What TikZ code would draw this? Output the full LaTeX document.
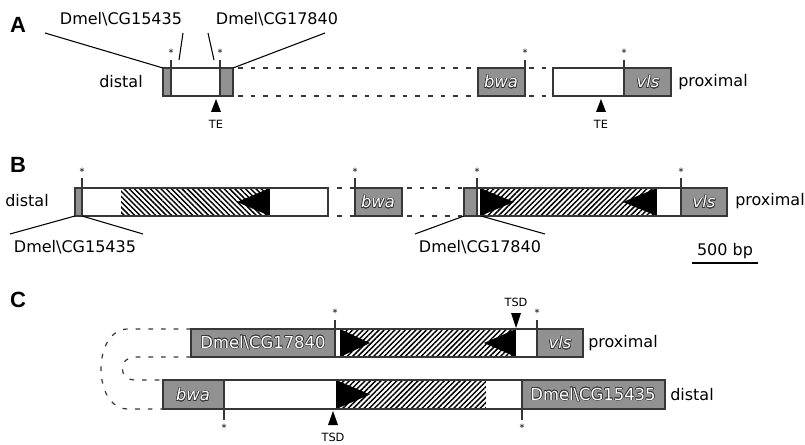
\documentclass[tikz,border=0pt]{standalone}
\usepackage{fontspec}
\setmainfont{DejaVu Sans}
\newfontfamily\panelfont{Liberation Sans}
\usepackage{contour}
\contourlength{0.4pt}
\usetikzlibrary{patterns.meta}
\definecolor{gfill}{RGB}{145,145,145}
\definecolor{edgec}{RGB}{55,55,55}
\newcommand{\otext}[1]{\textcolor{white}{\contour{edgec}{#1}}}
\begin{document}
\begin{tikzpicture}[x=0.75pt,y=-0.75pt,
  lab/.style={font=\fontsize{12}{14}\selectfont, inner sep=0pt},
  boxlab/.style={font=\fontsize{12.3}{14}\selectfont, inner sep=0pt},
  small/.style={font=\fontsize{8.5}{10}\selectfont, inner sep=0pt},
  ast/.style={font=\fontsize{7.5}{8}\selectfont, inner sep=0pt},
  panel/.style={font=\panelfont\bfseries\fontsize{16.5}{18}\selectfont, inner sep=0pt},
  bx/.style={draw=edgec, line width=0.9pt},
  dsh/.style={draw=edgec, line width=0.9pt, dash pattern=on 3.5pt off 6pt},
  tk/.style={draw=edgec, line width=0.8pt},
  lead/.style={draw=black, line width=0.8pt},
  hne/.style={pattern={Lines[angle=45,distance=2.8pt,line width=1.1pt]}},
  hnw/.style={pattern={Lines[angle=-45,distance=2.8pt,line width=1.1pt]}},
]
\useasboundingbox (0,0) rectangle (805,445);

% ================= Panel A =================
\node[panel] (pA) at (18,25) {A};
\node[lab] (lA1) at (121,19) {Dmel\textbackslash CG15435};
\node[lab] (lA2) at (277,19) {Dmel\textbackslash CG17840};
\node[lab, anchor=east] (dA) at (143,82) {distal};
\node[lab, anchor=west] (pxA) at (678,82) {proximal};

\path[fill=gfill] (163,68) rectangle (171,96);
\path[fill=white] (171,68) rectangle (220,96);
\path[fill=gfill] (220,68) rectangle (233,96);
\draw[bx] (163,68) rectangle (233,96);
\draw[edgec, line width=1.4pt] (233,68) -- (233,96);
\coordinate (a1) at (171,60);
\coordinate (a2) at (220,60);
\draw[tk] (a1) -- (171,96);
\draw[tk] (a2) -- (220,96);
\node[ast] at (171,53) {*};
\node[ast] at (220,53) {*};

\coordinate (aL) at (163,68);
\coordinate (aR) at (233,68);
\draw[lead] (45,33) -- (aL);
\draw[lead] (183,33) -- (179,60);
\draw[lead] (208,33) -- (214,60);
\draw[lead] (325,33) -- (aR);

\draw[dsh] (238,68) -- (478,68);
\draw[dsh] (238,96) -- (478,96);
\path[fill=gfill] (478,68) rectangle (525,96);
\draw[bx] (478,68) rectangle (525,96);
\node[boxlab] (bwaA) at (501,82) {\otext{\itshape bwa}};
\draw[tk] (525,60) -- (525,96);
\node[ast] at (525,53) {*};
\draw[dsh] (529,68) -- (553,68);
\draw[dsh] (529,96) -- (553,96);
\path[fill=white] (553,68) rectangle (624,96);
\path[fill=gfill] (624,68) rectangle (671,96);
\draw[bx] (553,68) rectangle (671,96);
\draw[tk] (624,60) -- (624,96);
\node[ast] at (624,53) {*};
\node[boxlab] (vlsA) at (648,82) {\otext{\itshape vls}};

\fill (216,99) -- (221,112) -- (211,112) -- cycle;
\node[small] (te1) at (216,124) {TE};
\fill (601,99) -- (606,112) -- (596,112) -- cycle;
\node[small] (te2) at (601,124) {TE};

% ================= Panel B =================
\node[panel] (pB) at (18,165) {B};
\node[lab] (dB) at (27,201) {distal};
\node[lab, anchor=west] (pxB) at (735,201) {proximal};

\path[fill=gfill] (75,188) rectangle (82,216);
\path[fill=white] (82,188) rectangle (121,216);
\path[hnw] (121,188) rectangle (270,216);
\fill (237,202) -- (270,188) -- (270,216) -- cycle;
\path[fill=white] (270,188) rectangle (328,216);
\draw[bx] (75,188) rectangle (328,216);
\draw[tk] (82,178) -- (82,216);
\node[ast] at (82,172) {*};

\draw[dsh] (337,188) -- (355,188);
\draw[dsh] (337,216) -- (355,216);
\path[fill=gfill] (355,188) rectangle (402,216);
\draw[bx] (355,188) rectangle (402,216);
\draw[tk] (355,178) -- (355,216);
\node[ast] at (355,172) {*};
\node[boxlab] (bwaB) at (378,202) {\otext{\itshape bwa}};
\draw[dsh] (407,188) -- (464,188);
\draw[dsh] (407,216) -- (464,216);

\path[fill=gfill] (464,188) rectangle (477,216);
\path[fill=white] (477,188) rectangle (480,216);
\path[hne] (480,188) rectangle (657,216);
\fill (480,188) -- (514,202) -- (480,216) -- cycle;
\fill (657,188) -- (623,202) -- (657,216) -- cycle;
\path[fill=white] (657,188) rectangle (681,216);
\path[fill=gfill] (681,188) rectangle (727,216);
\draw[bx] (464,188) rectangle (727,216);
\draw[tk] (477,178) -- (477,216);
\draw[tk] (681,178) -- (681,216);
\node[ast] at (477,172) {*};
\node[ast] at (681,172) {*};
\node[boxlab] (vlsB) at (704,202) {\otext{\itshape vls}};

\node[lab] (lB1) at (75,247) {Dmel\textbackslash CG15435};
\node[lab] (lB2) at (480,247) {Dmel\textbackslash CG17840};
\coordinate (b1) at (75,216);
\coordinate (b2) at (82,216);
\coordinate (b3) at (464,216);
\coordinate (b4) at (481,216);
\draw[lead] (10,234) -- (b1);
\draw[lead] (b2) -- (143,234);
\draw[lead] (415,234) -- (b3);
\draw[lead] (b4) -- (545,234);

\node[lab] (sc) at (725,251) {500 bp};
\draw[line width=0.8pt] (692,263) -- (758,263);

% ================= Panel C =================
\node[panel] (pC) at (18,300) {C};

% top (proximal) row
\path[fill=gfill] (191,329) rectangle (335,357);
\path[fill=white] (335,329) rectangle (340,357);
\path[hne] (340,329) rectangle (516,357);
\fill (340,329) -- (370,343) -- (340,357) -- cycle;
\fill (516,329) -- (484,343) -- (516,357) -- cycle;
\path[fill=white] (516,329) rectangle (537,357);
\path[fill=gfill] (537,329) rectangle (583,357);
\draw[bx] (191,329) rectangle (583,357);
\draw[tk] (335,320) -- (335,357);
\draw[tk] (537,320) -- (537,357);
\node[ast] at (335,313) {*};
\node[ast] at (537,313) {*};
\node[boxlab] (cgT) at (263,343) {\otext{Dmel\textbackslash CG17840}};
\node[boxlab] (vlsC) at (560,343) {\otext{\itshape vls}};
\node[lab, anchor=west] (pxC) at (588,343) {proximal};
\fill (511,313) -- (521,313) -- (516,328) -- cycle;
\node[small] (tsd1) at (516,302) {TSD};

% bottom (distal) row
\path[fill=gfill] (163,380) rectangle (224,409);
\path[fill=white] (224,380) rectangle (336,409);
\path[hne] (336,380) rectangle (486,409);
\fill (336,380) -- (370,394.5) -- (336,409) -- cycle;
\path[fill=white] (486,380) rectangle (522,409);
\path[fill=gfill] (522,380) rectangle (665,409);
\draw[bx] (163,380) rectangle (665,409);
\draw[edgec, line width=1.6pt] (163,380) -- (163,409);
\draw[tk] (224,380) -- (224,420);
\draw[tk] (522,380) -- (522,420);
\node[ast] at (224,428) {*};
\node[ast] at (522,428) {*};
\node[boxlab] (bwaC) at (193,395) {\otext{\itshape bwa}};
\node[boxlab] (cgB) at (593,395) {\otext{Dmel\textbackslash CG15435}};
\node[lab, anchor=west] (dC) at (670,395) {distal};
\fill (333,411) -- (338,425) -- (328,425) -- cycle;
\node[small] (tsd2) at (333,437) {TSD};

% dashed loops
\coordinate (t1) at (191,329);
\coordinate (t2) at (191,357);
\coordinate (u1) at (163,380);
\coordinate (u2) at (163,409);
\draw[dsh] (t1) -- (128,329) .. controls (92,329) and (92,409) .. (128,409) -- (u2);
\draw[dsh] (t2) -- (135,357) .. controls (118,357) and (118,380) .. (135,380) -- (u1);
\end{tikzpicture}
\end{document}
